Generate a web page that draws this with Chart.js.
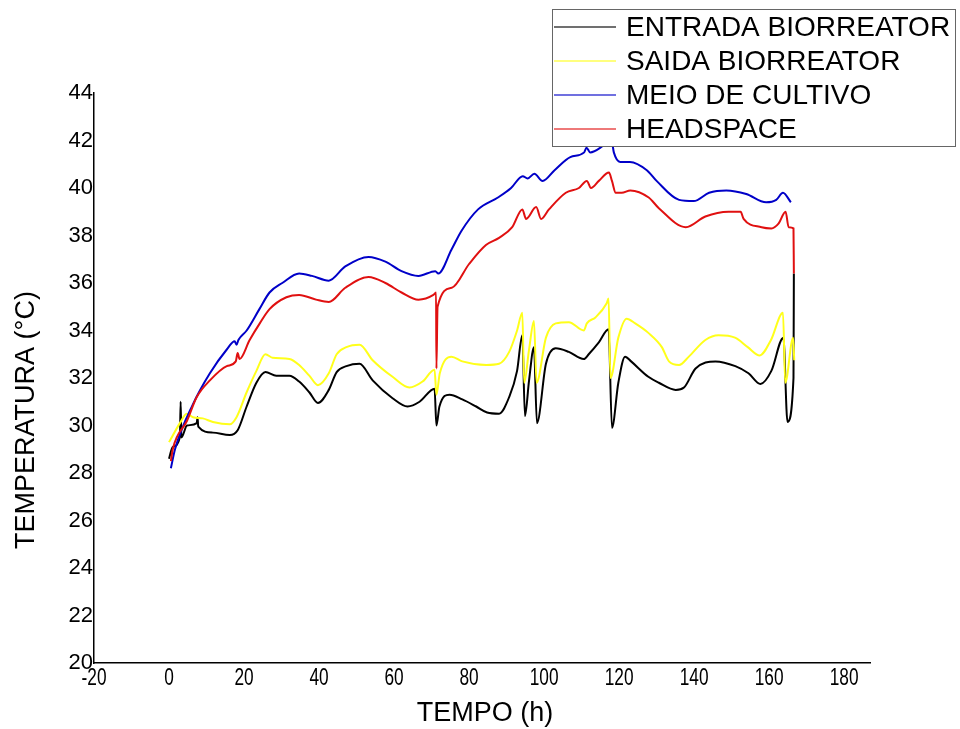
<!DOCTYPE html>
<html>
<head>
<meta charset="utf-8">
<script src="https://cdn.jsdelivr.net/npm/chart.js@4.4.1/dist/chart.umd.min.js"></script>
<style>
  html, body { margin: 0; padding: 0; background: #fff; }
  #wrap { width: 960px; height: 729px; }
</style>
</head>
<body>
<div id="wrap"><canvas id="myChart" width="960" height="729"></canvas></div>
<script>
// tick labels
const xTicks = [-20, 0, 20, 40, 60, 80, 100, 120, 140, 160, 180];
const yTicks = [20, 22, 24, 26, 28, 30, 32, 34, 36, 38, 40, 42, 44];

const seriesNames = ["ENTRADA BIORREATOR", "SAIDA BIORREATOR", "MEIO DE CULTIVO", "HEADSPACE"];

// ENTRADA BIORREATOR (black)
const entradaTime = [0, 1, 2.9, 3.1, 3.3, 4.8, 7.4, 7.6, 7.8, 11.7, 16.2, 18.3, 20.7, 23.3, 25.7, 28.6, 32.1, 34.7, 37.4, 39.7,
  42.6, 44.7, 47.3, 50.8, 54.3, 59.6, 63.6, 66.8, 70.8, 71.3, 72.1, 74.8, 78.2, 81.9, 84.8, 88, 90.7, 92.8, 94.2, 94.9,
  96, 97.3, 98.1, 100.5, 103.1, 106.6, 110.6, 111.9, 114.6, 117.2, 118.1, 119.8, 121.6, 123.2, 127.8, 130.6, 135.1, 137.3, 140.4, 145.7,
  151, 154.5, 157.7, 160.6, 163.8, 164.9, 166.5, 166.6];
const entrada = [28.6, 29.1, 29.5, 31.0, 29.5, 30.0, 30.1, 30.35, 29.95, 29.7, 29.6, 29.8, 30.8, 31.8, 32.25, 32.1, 32.1, 31.85, 31.4, 30.95,
  31.5, 32.25, 32.5, 32.6, 31.9, 31.15, 30.8, 31.0, 31.55, 30.0, 30.8, 31.3, 31.1, 30.8, 30.55, 30.5, 31.2, 32.3, 33.8, 30.4,
  31.9, 33.3, 30.1, 32.6, 33.25, 33.1, 32.8, 33.0, 33.5, 34.05, 29.9, 31.8, 32.9, 32.7, 32.05, 31.8, 31.5, 31.6, 32.4, 32.7,
  32.5, 32.2, 31.75, 32.3, 33.7, 30.15, 32.0, 36.4];

// SAIDA BIORREATOR (yellow)
const saidaTime = [0, 2.9, 4.7, 6.4, 9, 11.7, 16.2, 18, 20.7, 23.3, 25.7, 27.6, 32.1, 34.7, 37.4, 39.7, 42.6, 44.7, 47.3, 50.8,
  54.3, 59.6, 64.1, 67.6, 70.8, 71.3, 72.2, 75.3, 78.2, 84.6, 88, 90.7, 92.8, 94.2, 94.7, 96, 97.3, 98, 100.5, 103.1,
  106.6, 110.6, 111.4, 113.7, 116.7, 117.2, 117.7, 119.8, 122, 124.3, 127.8, 131.4, 133.3, 136, 138.6, 143, 146.5, 150.9, 154.3, 157.5,
  160.5, 163.7, 164.3, 166.4, 166.7];
const saida = [29.3, 30.1, 30.5, 30.35, 30.3, 30.15, 30.05, 30.35, 31.4, 32.3, 33.0, 32.85, 32.8, 32.55, 32.1, 31.7, 32.2, 33.0, 33.3, 33.4,
  32.75, 32.05, 31.6, 31.85, 32.35, 31.3, 32.2, 32.9, 32.7, 32.55, 32.6, 33.1, 34.0, 34.75, 31.8, 33.2, 34.4, 31.8, 33.7, 34.3,
  34.35, 34.0, 34.3, 34.55, 35.15, 35.35, 32.0, 33.7, 34.5, 34.3, 33.9, 33.3, 32.7, 32.55, 32.9, 33.6, 33.8, 33.7, 33.3, 32.95,
  33.6, 34.75, 31.8, 33.7, 32.75];

// MEIO DE CULTIVO (blue)
const meioTime = [0.5, 1.6, 6.4, 10.9, 15.4, 17.5, 18, 18.5, 20.7, 24.1, 26.8, 30.2, 34.7, 38.1, 42.6, 47, 53.2, 57.7, 62, 66.5,
  71, 71.8, 75.3, 78, 82.4, 87.7, 91.2, 94.3, 95.6, 97.4, 99.6, 102.8, 107, 110.7, 111.3, 112.3, 116, 118, 118.6, 120.3,
  122.9, 127.4, 130, 136, 139.9, 144, 148.6, 153.9, 159.2, 161.9, 163.7, 165.8];
const meio = [28.2, 29.0, 30.9, 32.2, 33.2, 33.55, 33.4, 33.6, 34.0, 34.9, 35.6, 36.0, 36.4, 36.3, 36.1, 36.7, 37.1, 36.9, 36.5, 36.3,
  36.5, 36.4, 37.4, 38.2, 39.1, 39.6, 40.0, 40.5, 40.4, 40.6, 40.3, 40.75, 41.3, 41.5, 41.7, 41.5, 41.8, 42.0, 41.5, 41.1,
  41.1, 40.75, 40.3, 39.5, 39.45, 39.8, 39.9, 39.75, 39.4, 39.5, 39.8, 39.4];

// HEADSPACE (red)
const headTime = [0.5, 1, 4.8, 7.4, 10.9, 15.4, 17.8, 18.3, 18.8, 21.5, 24.2, 26.8, 31.3, 34.7, 39.2, 42.6, 47, 53.2, 57.7, 62,
  66.5, 70.5, 71.2, 71.3, 71.6, 75.4, 80, 84.5, 88, 91.5, 94.2, 95.2, 97.9, 99.2, 101.3, 105.8, 109.3, 111.4, 112.5, 114.6,
  117.3, 118.1, 119.1, 120.7, 123, 127.9, 130.6, 137.8, 143, 149.2, 152.4, 153.2, 158, 160.6, 162.5, 164.4, 165.2, 166.5, 166.6];
const head = [28.5, 29.0, 30.2, 31.2, 31.9, 32.5, 32.7, 33.05, 32.8, 33.6, 34.3, 34.9, 35.4, 35.5, 35.3, 35.2, 35.8, 36.25, 36.0, 35.6,
  35.3, 35.5, 35.6, 32.4, 35.0, 35.8, 36.8, 37.6, 37.9, 38.35, 39.1, 38.7, 39.2, 38.7, 39.1, 39.8, 40.0, 40.3, 40.0, 40.3,
  40.65, 40.3, 39.8, 39.8, 39.9, 39.6, 39.15, 38.35, 38.8, 39.0, 39.0, 38.7, 38.35, 38.3, 38.5, 39.0, 38.35, 38.3, 36.4];

const colors = ["#000000", "#ffff1a", "#0000c8", "#e01010"];

function zip(ts, vs) {
  return ts.map((t, i) => ({ x: t, y: vs[i] }));
}

const font = "'Liberation Sans', Arial, sans-serif";

// x tick labels (condensed), axis titles and legend box
const decorations = {
  id: "decorations",
  afterDraw(chart) {
    const c = chart.ctx;
    const xs = chart.scales.x;
    c.save();
    c.fillStyle = "#000";
    c.font = "24px " + font;
    c.textAlign = "center";
    c.textBaseline = "top";
    xTicks.forEach((v) => {
      c.save();
      c.translate(xs.getPixelForValue(v), 666);
      c.scale(0.72, 1);
      c.fillText(String(v), 0, 0);
      c.restore();
    });

    c.font = "27px " + font;
    c.textBaseline = "middle";
    c.fillText("TEMPO (h)", 485, 714);
    c.translate(27, 420);
    c.rotate(-Math.PI / 2);
    c.fillText("TEMPERATURA (°C)", 0, 0);
    c.restore();

    c.save();
    c.fillStyle = "#fff";
    c.fillRect(552, 9, 403, 137);
    c.strokeStyle = "#666";
    c.lineWidth = 1;
    c.strokeRect(552.5, 9.5, 403, 137);
    c.font = "28px " + font;
    c.textBaseline = "middle";
    c.textAlign = "left";
    const rows = [27, 61, 95, 129];
    seriesNames.forEach((name, i) => {
      c.strokeStyle = colors[i];
      c.lineWidth = 1.5;
      c.globalAlpha = 0.75;
      c.beginPath();
      c.moveTo(554, rows[i]);
      c.lineTo(616, rows[i]);
      c.stroke();
      c.globalAlpha = 1;
      c.fillStyle = "#000";
      c.fillText(name, 626, rows[i] + 1);
    });
    c.restore();
  },
};

const ctx = document.getElementById("myChart");

new Chart(ctx, {
  type: "line",
  data: {
    datasets: [
      { label: seriesNames[0], data: zip(entradaTime, entrada), borderColor: colors[0], order: 4 },
      { label: seriesNames[1], data: zip(saidaTime, saida), borderColor: colors[1], order: 3 },
      { label: seriesNames[2], data: zip(meioTime, meio), borderColor: colors[2], order: 2 },
      { label: seriesNames[3], data: zip(headTime, head), borderColor: colors[3], order: 1 },
    ],
  },
  options: {
    responsive: false,
    animation: false,
    layout: { padding: { left: 0, top: 93, right: 90, bottom: 0 } },
    elements: {
      point: { radius: 0 },
      line: { borderWidth: 2, cubicInterpolationMode: "monotone", fill: false },
    },
    plugins: {
      legend: { display: false },
      tooltip: { enabled: false },
    },
    scales: {
      x: {
        type: "linear",
        min: -20,
        max: 186.9,
        afterBuildTicks: (scale) => {
          scale.ticks = xTicks.map((v) => ({ value: v }));
        },
        afterFit: (scale) => {
          scale.height = 66;
        },
        grid: { display: false, drawTicks: false },
        border: { display: true, color: "#000", width: 1.5 },
        ticks: { display: false },
      },
      y: {
        min: 20,
        max: 44,
        afterBuildTicks: (scale) => {
          scale.ticks = yTicks.map((v) => ({ value: v }));
        },
        afterFit: (scale) => {
          scale.width = 94;
        },
        grid: { display: false, drawTicks: false },
        border: { display: true, color: "#000", width: 1.5 },
        ticks: {
          padding: 1,
          color: "#000",
          font: { family: font, size: 22 },
          autoSkip: false,
        },
      },
    },
  },
  plugins: [decorations],
});
</script>
</body>
</html>
